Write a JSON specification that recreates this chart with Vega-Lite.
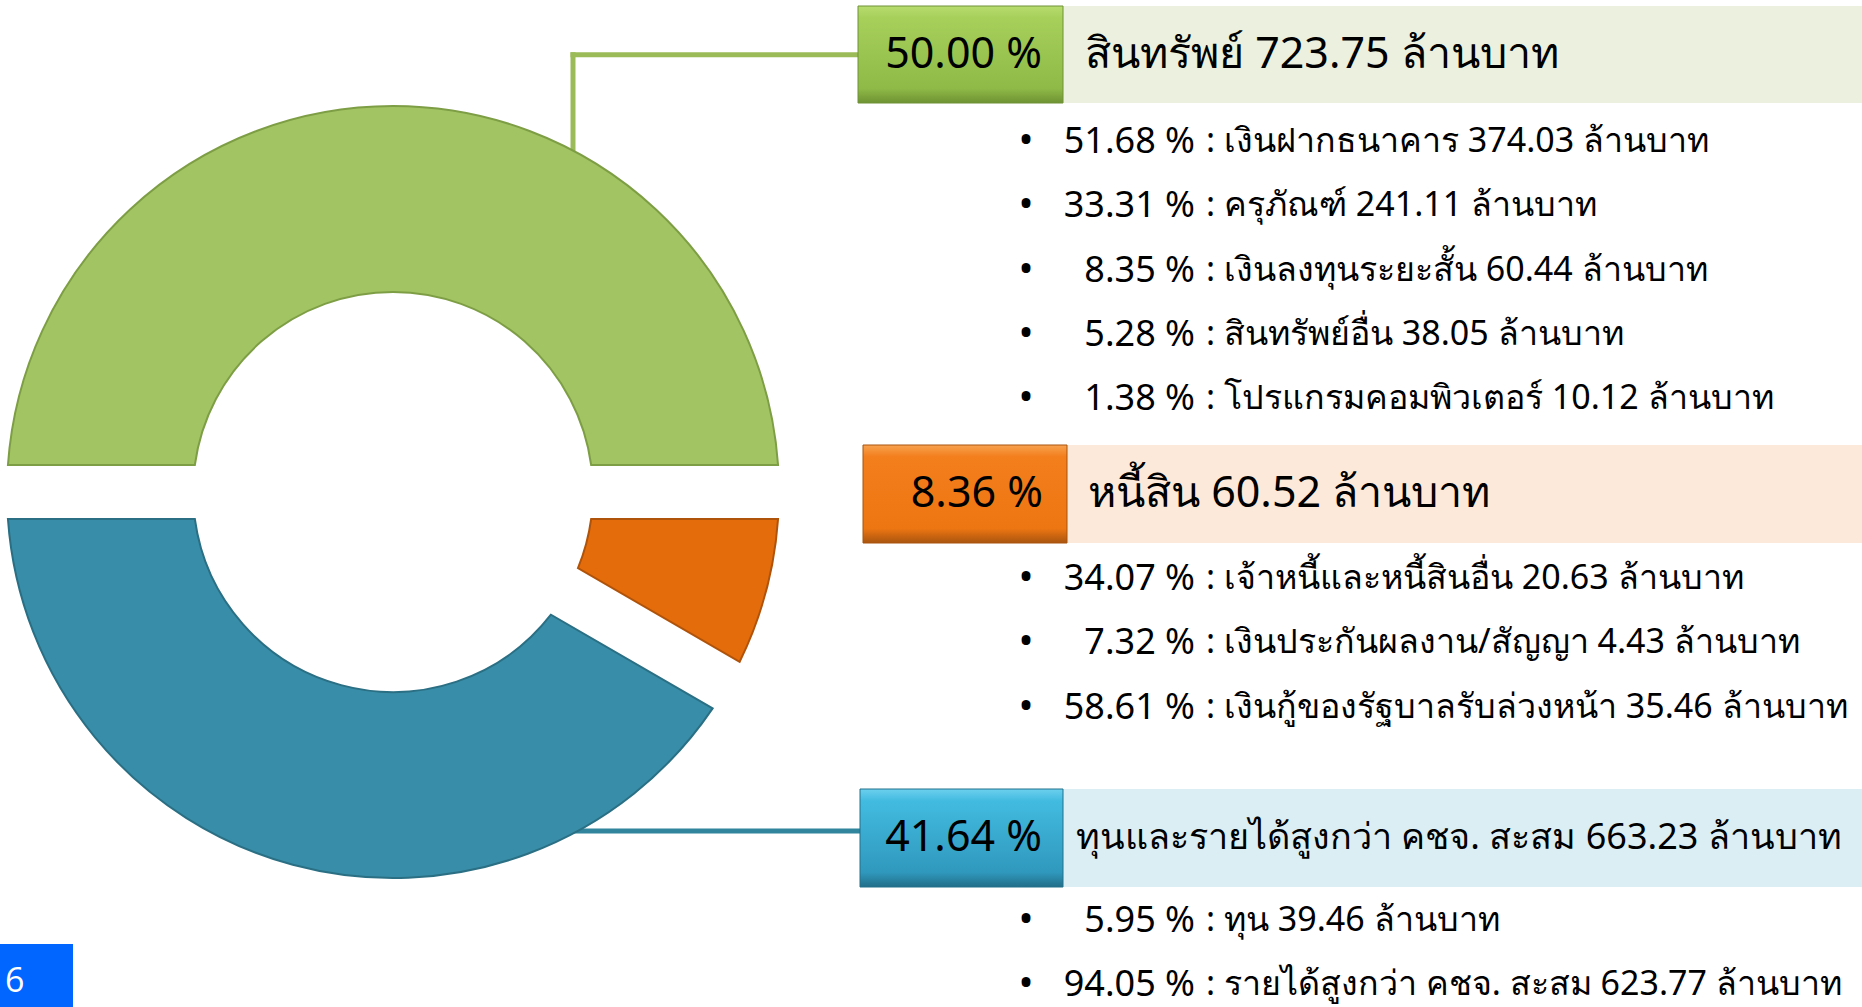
{
  "$schema": "https://vega.github.io/schema/vega-lite/v6.json",
  "background": "white",
  "padding": {"left": 0, "top": 5, "right": 0, "bottom": 0},
  "spacing": 0,
  "bounds": "flush",
  "config": {
    "view": {"stroke": null},
    "concat": {"spacing": 0},
    "font": "Noto Sans",
    "text": {"color": "#000000", "font": "Noto Sans"}
  },
  "datasets": {
    "summary": [
      {"seq": 1, "group": "สินทรัพย์", "pct": 50.00, "amount": 723.75},
      {"seq": 2, "group": "หนี้สิน", "pct": 8.36, "amount": 60.52},
      {"seq": 3, "group": "ทุนและรายได้สูงกว่า คชจ. สะสม", "pct": 41.64, "amount": 663.23}
    ],
    "items": [
      {"group": "สินทรัพย์", "item": "เงินฝากธนาคาร", "pct": 51.68, "amount": 374.03},
      {"group": "สินทรัพย์", "item": "ครุภัณฑ์", "pct": 33.31, "amount": 241.11},
      {"group": "สินทรัพย์", "item": "เงินลงทุนระยะสั้น", "pct": 8.35, "amount": 60.44},
      {"group": "สินทรัพย์", "item": "สินทรัพย์อื่น", "pct": 5.28, "amount": 38.05},
      {"group": "สินทรัพย์", "item": "โปรแกรมคอมพิวเตอร์", "pct": 1.38, "amount": 10.12},
      {"group": "หนี้สิน", "item": "เจ้าหนี้และหนี้สินอื่น", "pct": 34.07, "amount": 20.63},
      {"group": "หนี้สิน", "item": "เงินประกันผลงาน/สัญญา", "pct": 7.32, "amount": 4.43},
      {"group": "หนี้สิน", "item": "เงินกู้ของรัฐบาลรับล่วงหน้า", "pct": 58.61, "amount": 35.46},
      {"group": "ทุนและรายได้สูงกว่า คชจ. สะสม", "item": "ทุน", "pct": 5.95, "amount": 39.46},
      {"group": "ทุนและรายได้สูงกว่า คชจ. สะสม", "item": "รายได้สูงกว่า คชจ. สะสม", "pct": 94.05, "amount": 623.77}
    ]
  },
  "hconcat": [
    {
      "width": 786,
      "height": 972,
      "data": {"name": "summary"},
      "layer": [
        {
          "transform": [{"filter": "datum.seq == 1"}],
          "mark": {"type": "rule", "color": "#9BBB59", "strokeWidth": 5},
          "encoding": {
            "x": {"datum": 573, "type": "quantitative", "scale": {"domain": [0, 786], "nice": false}, "axis": null},
            "y": {"datum": 46.2, "type": "quantitative", "scale": {"domain": [0, 972], "reverse": true, "nice": false}, "axis": null},
            "y2": {"datum": 160}
          }
        },
        {
          "transform": [{"filter": "datum.seq == 1"}],
          "mark": {"type": "rule", "color": "#9BBB59", "strokeWidth": 5},
          "encoding": {
            "x": {"datum": 570.5, "type": "quantitative"},
            "x2": {"datum": 858},
            "y": {"datum": 48.7, "type": "quantitative"}
          }
        },
        {
          "transform": [{"filter": "datum.seq == 3"}],
          "mark": {"type": "rule", "color": "#31859C", "strokeWidth": 5},
          "encoding": {
            "x": {"datum": 550, "type": "quantitative"},
            "x2": {"datum": 860},
            "y": {"datum": 825, "type": "quantitative"}
          }
        },
        {
          "mark": {"type": "arc", "outerRadius": 386, "innerRadius": 200, "padAngle": 0.124, "strokeWidth": 2},
          "encoding": {
            "theta": {"field": "pct", "type": "quantitative", "stack": true, "scale": {"range": [-1.5708, 4.7124]}},
            "order": {"field": "seq"},
            "color": {
              "field": "group", "type": "nominal",
              "scale": {"domain": ["สินทรัพย์", "หนี้สิน", "ทุนและรายได้สูงกว่า คชจ. สะสม"], "range": ["#A3C462", "#E46C0A", "#388EA8"]},
              "legend": null
            },
            "stroke": {
              "field": "group", "type": "nominal",
              "scale": {"domain": ["สินทรัพย์", "หนี้สิน", "ทุนและรายได้สูงกว่า คชจ. สะสม"], "range": ["#7E9E45", "#B0530A", "#2A6F84"]},
              "legend": null
            }
          }
        },
        {
          "transform": [{"filter": "datum.seq == 1"}],
          "mark": {"type": "rect", "fill": "#0066FF"},
          "encoding": {
            "x": {"datum": 0, "type": "quantitative"},
            "x2": {"datum": 73},
            "y": {"datum": 938, "type": "quantitative"},
            "y2": {"datum": 1002}
          }
        },
        {
          "transform": [{"filter": "datum.seq == 1"}],
          "mark": {"type": "text", "text": "6", "color": "white", "fontSize": 34, "align": "left", "baseline": "alphabetic", "font": "Open Sans"},
          "encoding": {
            "x": {"datum": 5, "type": "quantitative"},
            "y": {"datum": 986, "type": "quantitative"}
          }
        }
      ]
    },
    {
      "spacing": 0,
      "bounds": "flush",
      "vconcat": [
        {
          "width": 1076, "height": 97,
          "data": {"name": "summary"},
          "transform": [{"filter": "datum.seq == 1"}],
          "layer": [
            {"mark": {"type": "rect", "fill": "#EBF1DE"}, "encoding": {"x": {"datum": 277, "type": "quantitative", "scale": {"domain": [0, 1076], "nice": false}, "axis": null}, "x2": {"datum": 1076}}},
            {"mark": {"type": "rect", "stroke": "#6F9237", "strokeWidth": 1, "fill": {"gradient": "linear", "x1": 0, "y1": 0, "x2": 0, "y2": 1, "stops": [{"offset": 0, "color": "#B8DC70"}, {"offset": 0.12, "color": "#A6D05A"}, {"offset": 0.85, "color": "#8FBA47"}, {"offset": 1, "color": "#6E9233"}]}}, "encoding": {"x": {"datum": 72, "type": "quantitative"}, "x2": {"datum": 277}}},
            {"mark": {"type": "text", "align": "right", "baseline": "middle", "fontSize": 43, "text": {"expr": "format(datum.pct, '.2f') + ' %'"}}, "encoding": {"x": {"datum": 256, "type": "quantitative"}}},
            {"mark": {"type": "text", "align": "left", "baseline": "middle", "fontSize": 43, "text": {"expr": "datum.group + ' ' + format(datum.amount, '.2f') + ' ล้านบาท'"}}, "encoding": {"x": {"datum": 299, "type": "quantitative"}}}
          ]
        },
        {
          "width": 1076, "height": 342,
          "data": {"name": "items"},
          "transform": [{"filter": {"field": "group", "equal": "สินทรัพย์"}}],
          "encoding": {"y": {"field": "item", "type": "nominal", "sort": null, "scale": {"type": "point", "padding": 0.659, "align": 0.46}, "axis": null}},
          "layer": [
            {"mark": {"type": "text", "text": "•", "fontSize": 40, "align": "center", "baseline": "middle"}, "encoding": {"x": {"datum": 240, "type": "quantitative", "scale": {"domain": [0, 1076], "nice": false}, "axis": null}}},
            {"mark": {"type": "text", "align": "right", "baseline": "middle", "fontSize": 36, "text": {"expr": "format(datum.pct, '.2f') + ' %'"}}, "encoding": {"x": {"datum": 409, "type": "quantitative"}}},
            {"mark": {"type": "text", "align": "left", "baseline": "middle", "fontSize": 34, "text": {"expr": "': ' + datum.item + ' ' + format(datum.amount, '.2f') + ' ล้านบาท'"}}, "encoding": {"x": {"datum": 420, "type": "quantitative"}}}
          ]
        },
        {
          "width": 1076, "height": 98,
          "data": {"name": "summary"},
          "transform": [{"filter": "datum.seq == 2"}],
          "layer": [
            {"mark": {"type": "rect", "fill": "#FDE9D9"}, "encoding": {"x": {"datum": 277, "type": "quantitative", "scale": {"domain": [0, 1076], "nice": false}, "axis": null}, "x2": {"datum": 1076}}},
            {"mark": {"type": "rect", "stroke": "#A9520C", "strokeWidth": 1, "fill": {"gradient": "linear", "x1": 0, "y1": 0, "x2": 0, "y2": 1, "stops": [{"offset": 0, "color": "#F8A250"}, {"offset": 0.12, "color": "#F37E1C"}, {"offset": 0.85, "color": "#EE7612"}, {"offset": 1, "color": "#A9550F"}]}}, "encoding": {"x": {"datum": 77, "type": "quantitative"}, "x2": {"datum": 281}}},
            {"mark": {"type": "text", "align": "right", "baseline": "middle", "fontSize": 43, "text": {"expr": "format(datum.pct, '.2f') + ' %'"}}, "encoding": {"x": {"datum": 257, "type": "quantitative"}}},
            {"mark": {"type": "text", "align": "left", "baseline": "middle", "fontSize": 43, "text": {"expr": "datum.group + ' ' + format(datum.amount, '.2f') + ' ล้านบาท'"}}, "encoding": {"x": {"datum": 302, "type": "quantitative"}}}
          ]
        },
        {
          "width": 1076, "height": 246,
          "data": {"name": "items"},
          "transform": [{"filter": {"field": "group", "equal": "หนี้สิน"}}],
          "encoding": {"y": {"field": "item", "type": "nominal", "sort": null, "scale": {"type": "point", "padding": 0.913, "align": 0.307}, "axis": null}},
          "layer": [
            {"mark": {"type": "text", "text": "•", "fontSize": 40, "align": "center", "baseline": "middle"}, "encoding": {"x": {"datum": 240, "type": "quantitative", "scale": {"domain": [0, 1076], "nice": false}, "axis": null}}},
            {"mark": {"type": "text", "align": "right", "baseline": "middle", "fontSize": 36, "text": {"expr": "format(datum.pct, '.2f') + ' %'"}}, "encoding": {"x": {"datum": 409, "type": "quantitative"}}},
            {"mark": {"type": "text", "align": "left", "baseline": "middle", "fontSize": 34, "text": {"expr": "': ' + datum.item + ' ' + format(datum.amount, '.2f') + ' ล้านบาท'"}}, "encoding": {"x": {"datum": 420, "type": "quantitative"}}}
          ]
        },
        {
          "width": 1076, "height": 98,
          "data": {"name": "summary"},
          "transform": [{"filter": "datum.seq == 3"}],
          "layer": [
            {"mark": {"type": "rect", "fill": "#DBEEF4"}, "encoding": {"x": {"datum": 277, "type": "quantitative", "scale": {"domain": [0, 1076], "nice": false}, "axis": null}, "x2": {"datum": 1076}}},
            {"mark": {"type": "rect", "stroke": "#22708A", "strokeWidth": 1, "fill": {"gradient": "linear", "x1": 0, "y1": 0, "x2": 0, "y2": 1, "stops": [{"offset": 0, "color": "#6DD0EE"}, {"offset": 0.12, "color": "#42BBE0"}, {"offset": 0.85, "color": "#3098BD"}, {"offset": 1, "color": "#216E88"}]}}, "encoding": {"x": {"datum": 74, "type": "quantitative"}, "x2": {"datum": 277}}},
            {"mark": {"type": "text", "align": "right", "baseline": "middle", "fontSize": 43, "text": {"expr": "format(datum.pct, '.2f') + ' %'"}}, "encoding": {"x": {"datum": 256, "type": "quantitative"}}},
            {"mark": {"type": "text", "align": "left", "baseline": "middle", "fontSize": 36, "text": {"expr": "datum.group + ' ' + format(datum.amount, '.2f') + ' ล้านบาท'"}}, "encoding": {"x": {"datum": 290, "type": "quantitative"}}}
          ]
        },
        {
          "width": 1076, "height": 121,
          "data": {"name": "items"},
          "transform": [{"filter": {"field": "group", "equal": "ทุนและรายได้สูงกว่า คชจ. สะสม"}}],
          "encoding": {"y": {"field": "item", "type": "nominal", "sort": null, "scale": {"type": "point", "padding": 0.441, "align": 0.6}, "axis": null}},
          "layer": [
            {"mark": {"type": "text", "text": "•", "fontSize": 40, "align": "center", "baseline": "middle", "clip": true}, "encoding": {"x": {"datum": 240, "type": "quantitative", "scale": {"domain": [0, 1076], "nice": false}, "axis": null}}},
            {"mark": {"type": "text", "align": "right", "baseline": "middle", "fontSize": 36, "clip": true, "text": {"expr": "format(datum.pct, '.2f') + ' %'"}}, "encoding": {"x": {"datum": 409, "type": "quantitative"}}},
            {"mark": {"type": "text", "align": "left", "baseline": "middle", "fontSize": 34, "clip": true, "text": {"expr": "': ' + datum.item + ' ' + format(datum.amount, '.2f') + ' ล้านบาท'"}}, "encoding": {"x": {"datum": 420, "type": "quantitative"}}}
          ]
        }
      ]
    }
  ]
}
